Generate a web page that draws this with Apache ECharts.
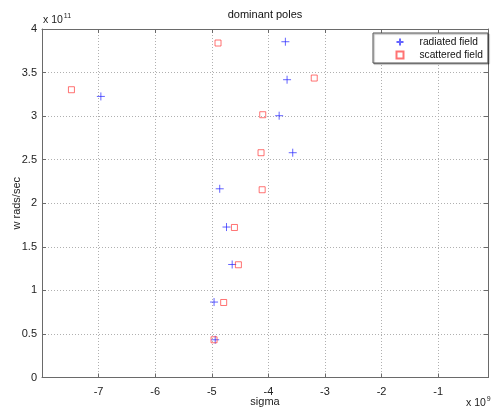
<!DOCTYPE html>
<html>
<head>
<meta charset="utf-8">
<script src="https://cdn.jsdelivr.net/npm/echarts@6/dist/echarts.min.js"></script>
<style>
html,body{margin:0;padding:0;background:#fff;}
#c{width:492px;height:410px;}
</style>
</head>
<body>
<div id="c"></div>
<script>
// sigma in units of 1e9, w in units of 1e11
const radiatedSigma = [-6.96, -3.70, -3.67, -3.81, -3.57, -4.86, -4.74, -4.64, -4.96, -4.94];
const radiatedW     = [3.226, 3.854, 3.418, 3.005, 2.58, 2.166, 1.727, 1.297, 0.866, 0.433];
const scatteredSigma = [-7.48, -4.89, -3.19, -4.10, -4.13, -4.11, -4.60, -4.53, -4.79, -4.96];
const scatteredW     = [3.303, 3.839, 3.437, 3.016, 2.58, 2.155, 1.722, 1.294, 0.861, 0.433];
const xTicks = [-7, -6, -5, -4, -3, -2, -1];
const yTicks = [0, 0.5, 1, 1.5, 2, 2.5, 3, 3.5, 4];
const seriesNames = ['radiated field', 'scattered field'];
const titleText = 'dominant poles';
const xName = 'sigma';
const yName = 'w rads/sec';

const FONT = '"Liberation Sans", Arial, sans-serif';
const zip = (a, b) => a.map((v, i) => [v, b[i]]);

const chart = echarts.init(document.getElementById('c'), null, {renderer: 'canvas'});
const axisLineColor = '#6a6a6a';
const gridStyle = {color: '#b0b0b0', width: 1, type: [1, 2]};

const xBase = {
  type: 'value', min: -8, max: -0.12, interval: 1,
  axisLine: {show: true, onZero: false, lineStyle: {color: axisLineColor}},
  axisTick: {show: true, inside: true, length: 4, lineStyle: {color: axisLineColor}},
};
const yBase = {
  type: 'value', min: 0, max: 4, interval: 0.5,
  axisLine: {show: true, onZero: false, lineStyle: {color: axisLineColor}},
  axisTick: {show: true, inside: true, length: 4, lineStyle: {color: axisLineColor}},
};

chart.setOption({
  animation: false,
  backgroundColor: '#fff',
  title: {
    text: titleText, left: 265, top: 9, padding: 0, textAlign: 'center',
    textStyle: {fontFamily: FONT, fontSize: 11, fontWeight: 'normal', color: '#111'}
  },
  grid: {left: 42, right: 4, top: 29, bottom: 32.5, containLabel: false, outerBoundsMode: 'none'},
  xAxis: [
    Object.assign({}, xBase, {
      position: 'bottom',
      name: xName, nameLocation: 'middle', nameGap: 18.5, nameMoveOverlap: false,
      nameTextStyle: {fontFamily: FONT, fontSize: 11, color: '#222'},
      axisLabel: {
        fontFamily: FONT, fontSize: 11, color: '#222', margin: 9,
        formatter: v => (xTicks.indexOf(v) >= 0 ? String(v) : '')
      },
      splitLine: {show: true, lineStyle: gridStyle}
    }),
    Object.assign({}, xBase, {
      position: 'top', axisLabel: {show: false}, splitLine: {show: false}
    })
  ],
  yAxis: [
    Object.assign({}, yBase, {
      position: 'left',
      name: yName, nameLocation: 'middle', nameGap: 20, nameRotate: 90, nameMoveOverlap: false,
      nameTextStyle: {fontFamily: FONT, fontSize: 11, color: '#222'},
      axisLabel: {
        fontFamily: FONT, fontSize: 11, color: '#222', margin: 5,
        formatter: v => (yTicks.indexOf(v) >= 0 ? String(v) : '')
      },
      splitLine: {show: true, lineStyle: gridStyle}
    }),
    Object.assign({}, yBase, {
      position: 'right', axisLabel: {show: false}, splitLine: {show: false}
    })
  ],
  legend: {
    data: seriesNames,
    orient: 'vertical',
    left: 373, top: 33,
    padding: [3, 5, 2, 21],
    itemWidth: 7, itemHeight: 7, itemGap: 1,
    backgroundColor: '#fff',
    borderColor: '#555', borderWidth: 1,
    shadowColor: 'rgba(0,0,0,0.35)', shadowBlur: 1, shadowOffsetX: 1, shadowOffsetY: 1,
    textStyle: {fontFamily: FONT, fontSize: 10.2, lineHeight: 12, color: '#111', padding: [0, 0, 0, 11]}
  },
  graphic: [
    {
      type: 'text', left: 43, top: 13,
      style: {
        text: '{a|x 10}{b|11}',
        rich: {
          a: {fontFamily: FONT, fontSize: 10.5, fill: '#222', verticalAlign: 'bottom'},
          b: {fontFamily: FONT, fontSize: 7, fill: '#222', verticalAlign: 'top', padding: [0, 0, 6, 1]}
        }
      }
    },
    {
      type: 'text', left: 466, top: 396,
      style: {
        text: '{a|x 10}{b|9}',
        rich: {
          a: {fontFamily: FONT, fontSize: 10.5, fill: '#222', verticalAlign: 'bottom'},
          b: {fontFamily: FONT, fontSize: 7, fill: '#222', verticalAlign: 'top', padding: [0, 0, 6, 1]}
        }
      }
    }
  ],
  series: [
    {
      name: seriesNames[0], type: 'scatter', xAxisIndex: 0, yAxisIndex: 0,
      data: zip(radiatedSigma, radiatedW),
      symbol: 'path://M5,0 L5,10 M0,5 L10,5', symbolSize: 8,
      itemStyle: {color: 'none', borderColor: 'rgba(40,40,255,0.9)', borderWidth: 1}
    },
    {
      name: seriesNames[1], type: 'scatter', xAxisIndex: 0, yAxisIndex: 0,
      data: zip(scatteredSigma, scatteredW),
      symbol: 'rect', symbolSize: 6,
      itemStyle: {color: 'none', borderColor: 'rgba(255,50,50,0.85)', borderWidth: 1}
    }
  ]
});
</script>
</body>
</html>
